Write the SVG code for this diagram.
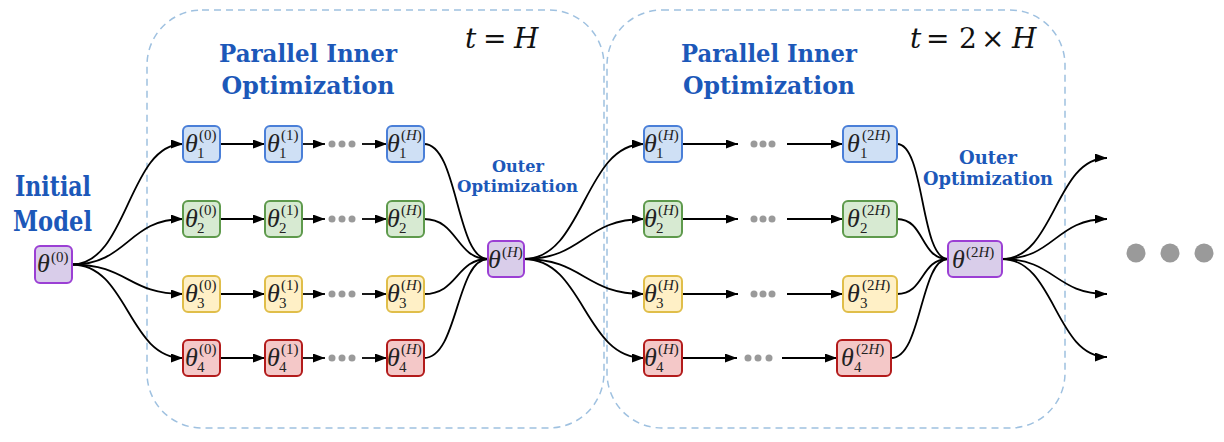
<svg xmlns="http://www.w3.org/2000/svg" width="1224" height="442" viewBox="0 0 1224 442">
<style>
.box{fill:none;stroke:#9fc1e0;stroke-width:1.5;stroke-dasharray:7,5}
.lbl{font-family:"DejaVu Serif",serif;font-weight:bold;fill:#1c58b9;text-anchor:middle}
.math{font-family:"DejaVu Serif",serif;font-size:28px;fill:#111}
.it{font-style:italic}
.th{font-family:"Liberation Serif",serif;font-style:italic;font-size:26px;fill:#222}
.sup,.sub{font-family:"Liberation Serif",serif;font-size:15px;fill:#222}
.blue{fill:#cfe0f5;stroke:#4a7fd8;stroke-width:2}
.green{fill:#d7ead2;stroke:#5e9a4c;stroke-width:2}
.yellow{fill:#fff0c6;stroke:#e0be4a;stroke-width:2}
.red{fill:#f4c8c8;stroke:#b31b1b;stroke-width:2}
.purple{fill:#d9cdea;stroke:#9b3fd4;stroke-width:2}
.c{fill:none;stroke:#000;stroke-width:1.8}
.a{marker-end:url(#ah)}
.dot{fill:#9a9a9a}
</style>
<defs>
<marker id="ah" viewBox="0 0 12 9" refX="12" refY="4.5" markerWidth="12" markerHeight="9" markerUnits="userSpaceOnUse" orient="auto"><path d="M0,0 L12,4.5 L0,9 z" fill="#000"/></marker>
</defs>

<g id="frames">
<rect class="box" x="147" y="10" width="457" height="418" rx="55"/>
<rect class="box" x="607" y="10" width="458" height="418" rx="55"/>
</g>

<g id="labels">
<text class="lbl" x="53" y="196" font-size="27" textLength="76" lengthAdjust="spacingAndGlyphs">Initial</text>
<text class="lbl" x="52.5" y="231" font-size="27" textLength="79" lengthAdjust="spacingAndGlyphs">Model</text>
<text class="lbl" x="308" y="62" font-size="24" textLength="178" lengthAdjust="spacingAndGlyphs">Parallel Inner</text>
<text class="lbl" x="308" y="94" font-size="24" textLength="173" lengthAdjust="spacingAndGlyphs">Optimization</text>
<text class="lbl" x="769" y="62" font-size="24" textLength="176" lengthAdjust="spacingAndGlyphs">Parallel Inner</text>
<text class="lbl" x="769" y="94" font-size="24" textLength="172" lengthAdjust="spacingAndGlyphs">Optimization</text>
<text class="lbl" x="518" y="172" font-size="17" textLength="52" lengthAdjust="spacingAndGlyphs">Outer</text>
<text class="lbl" x="517.5" y="192" font-size="17" textLength="121" lengthAdjust="spacingAndGlyphs">Optimization</text>
<text class="lbl" x="988" y="164" font-size="18" textLength="58" lengthAdjust="spacingAndGlyphs">Outer</text>
<text class="lbl" x="988" y="185" font-size="18" textLength="130" lengthAdjust="spacingAndGlyphs">Optimization</text>
<text class="math" y="48"><tspan class="it" x="465">t</tspan><tspan x="483">=</tspan><tspan class="it" x="514">H</tspan></text>
<text class="math" y="48"><tspan class="it" x="910">t</tspan><tspan x="926">=</tspan><tspan x="959">2</tspan><tspan x="981">×</tspan><tspan class="it" x="1012">H</tspan></text>
</g>

<g id="connectors">
<path class="c a" d="M72,264.5 C128,264.5 128,144 183,144"/>
<path class="c a" d="M72,264.5 C128,264.5 128,219 183,219"/>
<path class="c a" d="M72,264.5 C128,264.5 128,294 183,294"/>
<path class="c a" d="M72,264.5 C128,264.5 128,358 183,358"/>

<path class="c a" d="M220,144 L265,144"/><path class="c a" d="M302,144 L325,144"/><path class="c a" d="M362,144 L387,144"/>
<path class="c a" d="M220,219 L265,219"/><path class="c a" d="M302,219 L325,219"/><path class="c a" d="M362,219 L387,219"/>
<path class="c a" d="M220,294 L265,294"/><path class="c a" d="M302,294 L325,294"/><path class="c a" d="M362,294 L387,294"/>
<path class="c a" d="M220,358 L265,358"/><path class="c a" d="M302,358 L325,358"/><path class="c a" d="M362,358 L387,358"/>

<path class="c" d="M424,144 C458,144 456,259 488,259"/>
<path class="c" d="M424,219 C458,219 456,259 488,259"/>
<path class="c" d="M424,294 C458,294 456,259 488,259"/>
<path class="c" d="M424,358 C458,358 456,259 488,259"/>

<path class="c a" d="M524,259 C584,259 584,144 644,144"/>
<path class="c a" d="M524,259 C584,259 584,219 644,219"/>
<path class="c a" d="M524,259 C584,259 584,294 644,294"/>
<path class="c a" d="M524,259 C584,259 584,358 644,358"/>

<path class="c a" d="M682,144 L738,144"/><path class="c a" d="M787,144 L843,144"/>
<path class="c a" d="M682,219 L738,219"/><path class="c a" d="M787,219 L843,219"/>
<path class="c a" d="M682,294 L738,294"/><path class="c a" d="M787,294 L843,294"/>
<path class="c a" d="M682,358 L737,358"/><path class="c a" d="M782,358 L837,358"/>

<path class="c" d="M897,144 C925,144 920,259 948,259"/>
<path class="c" d="M897,219 C925,219 920,259 948,259"/>
<path class="c" d="M897,294 C925,294 920,259 948,259"/>
<path class="c" d="M891,358 C922,358 920,259 948,259"/>

<path class="c a" d="M1002,259 C1055,259 1055,158 1107,158"/>
<path class="c a" d="M1002,259 C1055,259 1055,219 1107,219"/>
<path class="c a" d="M1002,259 C1055,259 1055,294 1107,294"/>
<path class="c a" d="M1002,259 C1055,259 1055,357 1107,357"/>

<circle class="dot" cx="332" cy="144" r="3.5"/><circle class="dot" cx="342" cy="144" r="3.5"/><circle class="dot" cx="352" cy="144" r="3.5"/>
<circle class="dot" cx="332" cy="219" r="3.5"/><circle class="dot" cx="342" cy="219" r="3.5"/><circle class="dot" cx="352" cy="219" r="3.5"/>
<circle class="dot" cx="332" cy="294" r="3.5"/><circle class="dot" cx="342" cy="294" r="3.5"/><circle class="dot" cx="352" cy="294" r="3.5"/>
<circle class="dot" cx="332" cy="358" r="3.5"/><circle class="dot" cx="342" cy="358" r="3.5"/><circle class="dot" cx="352" cy="358" r="3.5"/>
<circle class="dot" cx="754" cy="144" r="3.5"/><circle class="dot" cx="763" cy="144" r="3.5"/><circle class="dot" cx="772" cy="144" r="3.5"/>
<circle class="dot" cx="754" cy="219" r="3.5"/><circle class="dot" cx="763" cy="219" r="3.5"/><circle class="dot" cx="772" cy="219" r="3.5"/>
<circle class="dot" cx="754" cy="294" r="3.5"/><circle class="dot" cx="763" cy="294" r="3.5"/><circle class="dot" cx="772" cy="294" r="3.5"/>
<circle class="dot" cx="748" cy="358" r="3.5"/><circle class="dot" cx="758" cy="358" r="3.5"/><circle class="dot" cx="769" cy="358" r="3.5"/>
</g>

<g id="ellipsis">
<circle class="dot" cx="1136" cy="253" r="9.5"/><circle class="dot" cx="1170" cy="253" r="9.5"/><circle class="dot" cx="1204" cy="253" r="9.5"/>
</g>

<g id="n-init"><rect class="purple" x="35" y="246" width="37" height="37" rx="5"/><text class="th" x="37" y="272">θ</text><text class="sup" x="51" y="262">(0)</text></g>
<g id="n-outer1"><rect class="purple" x="488" y="241" width="36" height="36" rx="5"/><text class="th" x="488" y="268">θ</text><text class="sup" x="502" y="257">(<tspan font-style="italic">H</tspan>)</text></g>
<g id="n-outer2"><rect class="purple" x="948" y="241" width="54" height="36" rx="5"/><text class="th" x="952" y="268">θ</text><text class="sup" x="966" y="257">(2<tspan font-style="italic">H</tspan>)</text></g>

<g id="n-1-0"><rect class="blue" x="183" y="126" width="37" height="36" rx="5"/><text class="th" x="185" y="152">θ</text><text class="sup" x="199" y="140">(0)</text><text class="sub" x="197" y="158">1</text></g>
<g id="n-1-1"><rect class="blue" x="265" y="126" width="37" height="36" rx="5"/><text class="th" x="267" y="152">θ</text><text class="sup" x="281" y="140">(1)</text><text class="sub" x="279" y="158">1</text></g>
<g id="n-1-H"><rect class="blue" x="387" y="126" width="37" height="36" rx="5"/><text class="th" x="387" y="152">θ</text><text class="sup" x="401" y="140">(<tspan font-style="italic">H</tspan>)</text><text class="sub" x="399" y="158">1</text></g>
<g id="n-2-0"><rect class="green" x="183" y="201" width="37" height="36" rx="5"/><text class="th" x="185" y="227">θ</text><text class="sup" x="199" y="215">(0)</text><text class="sub" x="197" y="233">2</text></g>
<g id="n-2-1"><rect class="green" x="265" y="201" width="37" height="36" rx="5"/><text class="th" x="267" y="227">θ</text><text class="sup" x="281" y="215">(1)</text><text class="sub" x="279" y="233">2</text></g>
<g id="n-2-H"><rect class="green" x="387" y="201" width="37" height="36" rx="5"/><text class="th" x="387" y="227">θ</text><text class="sup" x="401" y="215">(<tspan font-style="italic">H</tspan>)</text><text class="sub" x="399" y="233">2</text></g>
<g id="n-3-0"><rect class="yellow" x="183" y="276" width="37" height="36" rx="5"/><text class="th" x="185" y="302">θ</text><text class="sup" x="199" y="290">(0)</text><text class="sub" x="197" y="308">3</text></g>
<g id="n-3-1"><rect class="yellow" x="265" y="276" width="37" height="36" rx="5"/><text class="th" x="267" y="302">θ</text><text class="sup" x="281" y="290">(1)</text><text class="sub" x="279" y="308">3</text></g>
<g id="n-3-H"><rect class="yellow" x="387" y="276" width="37" height="36" rx="5"/><text class="th" x="387" y="302">θ</text><text class="sup" x="401" y="290">(<tspan font-style="italic">H</tspan>)</text><text class="sub" x="399" y="308">3</text></g>
<g id="n-4-0"><rect class="red" x="183" y="340" width="37" height="36" rx="5"/><text class="th" x="185" y="366">θ</text><text class="sup" x="199" y="354">(0)</text><text class="sub" x="197" y="372">4</text></g>
<g id="n-4-1"><rect class="red" x="265" y="340" width="37" height="36" rx="5"/><text class="th" x="267" y="366">θ</text><text class="sup" x="281" y="354">(1)</text><text class="sub" x="279" y="372">4</text></g>
<g id="n-4-H"><rect class="red" x="387" y="340" width="37" height="36" rx="5"/><text class="th" x="387" y="366">θ</text><text class="sup" x="401" y="354">(<tspan font-style="italic">H</tspan>)</text><text class="sub" x="399" y="372">4</text></g>

<g id="m-1-H"><rect class="blue" x="644" y="126" width="38" height="36" rx="5"/><text class="th" x="644" y="152">θ</text><text class="sup" x="658" y="140">(<tspan font-style="italic">H</tspan>)</text><text class="sub" x="656" y="158">1</text></g>
<g id="m-1-2H"><rect class="blue" x="843" y="126" width="54" height="36" rx="5"/><text class="th" x="847" y="152">θ</text><text class="sup" x="862" y="140">(2<tspan font-style="italic">H</tspan>)</text><text class="sub" x="860" y="158">1</text></g>
<g id="m-2-H"><rect class="green" x="644" y="201" width="38" height="36" rx="5"/><text class="th" x="644" y="227">θ</text><text class="sup" x="658" y="215">(<tspan font-style="italic">H</tspan>)</text><text class="sub" x="656" y="233">2</text></g>
<g id="m-2-2H"><rect class="green" x="843" y="201" width="54" height="36" rx="5"/><text class="th" x="847" y="227">θ</text><text class="sup" x="862" y="215">(2<tspan font-style="italic">H</tspan>)</text><text class="sub" x="860" y="233">2</text></g>
<g id="m-3-H"><rect class="yellow" x="644" y="276" width="38" height="36" rx="5"/><text class="th" x="644" y="302">θ</text><text class="sup" x="658" y="290">(<tspan font-style="italic">H</tspan>)</text><text class="sub" x="656" y="308">3</text></g>
<g id="m-3-2H"><rect class="yellow" x="843" y="276" width="54" height="36" rx="5"/><text class="th" x="847" y="302">θ</text><text class="sup" x="862" y="290">(2<tspan font-style="italic">H</tspan>)</text><text class="sub" x="860" y="308">3</text></g>
<g id="m-4-H"><rect class="red" x="644" y="340" width="38" height="36" rx="5"/><text class="th" x="644" y="366">θ</text><text class="sup" x="658" y="354">(<tspan font-style="italic">H</tspan>)</text><text class="sub" x="656" y="372">4</text></g>
<g id="m-4-2H"><rect class="red" x="837" y="340" width="54" height="36" rx="5"/><text class="th" x="841" y="366">θ</text><text class="sup" x="856" y="354">(2<tspan font-style="italic">H</tspan>)</text><text class="sub" x="854" y="372">4</text></g>
</svg>
